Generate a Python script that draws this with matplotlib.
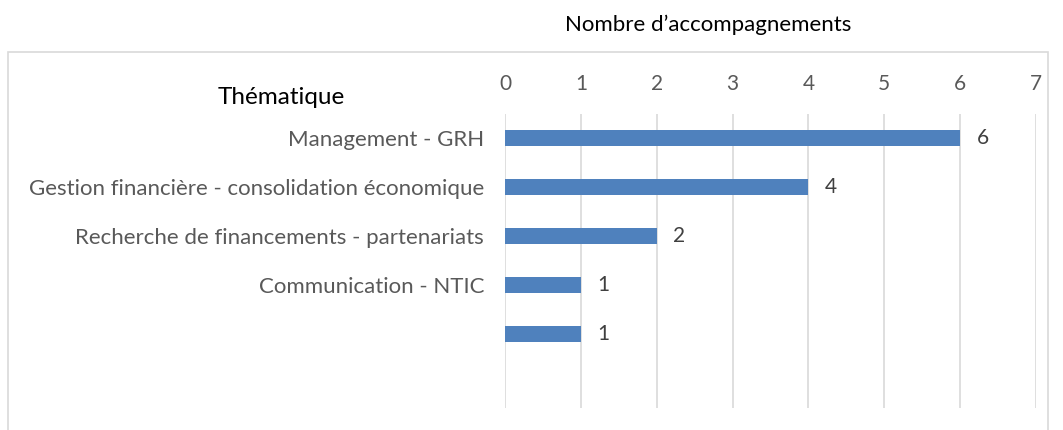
import matplotlib.pyplot as plt
from matplotlib.patches import Rectangle

plt.rcParams['font.family'] = ['Lato', 'DejaVu Sans']

# data
themes = ['Management - GRH',
          'Gestion financière - consolidation économique',
          'Recherche de financements - partenariats',
          'Communication - NTIC',
          '',
          '']
counts = [6, 4, 2, 1, 1, None]
xticks = [0, 1, 2, 3, 4, 5, 6, 7]

W, H = 1063, 430
fig = plt.figure(figsize=(W / 100, H / 100), dpi=100)

# axes area in pixels: x 505 -> 1036 (0..7), y 113 -> 407
left, right, top, bottom = 505, 1036, 113.5, 407.5
ax = fig.add_axes([left / W, 1 - bottom / H, (right - left) / W, (bottom - top) / H])

ypos = list(range(len(themes)))
vals = [c if c is not None else 0 for c in counts]
ax.barh(ypos, vals, height=0.33, color='#4f81bd', zorder=3)
for y, c in zip(ypos, counts):
    if c is not None:
        ax.text(c + 0.22, y, str(c), va='center', ha='left', fontsize=15, color='#404040')

ax.set_xlim(0, 7)
ax.set_ylim(len(themes) - 0.5, -0.5)
ax.set_xticks(xticks)
ax.xaxis.tick_top()
ax.tick_params(axis='x', length=0, pad=14, labelsize=15, labelcolor='#595959')
ax.set_yticks(ypos)
ax.set_yticklabels(themes)
ax.tick_params(axis='y', length=0, pad=15, labelsize=16, labelcolor='#595959')
ax.grid(axis='x', color='#d9d9d9', linewidth=1.2, zorder=0)
for s in ax.spines.values():
    s.set_visible(False)

# outer chart border
fig.patches.append(Rectangle((8 / W, -0.05), (1048 - 8) / W, 1.05 - 52 / H,
                             transform=fig.transFigure, fill=False,
                             edgecolor='#d9d9d9', linewidth=1.2))

fig.text(708 / W, 1 - 25 / H, 'Nombre d\u2019accompagnements', ha='center', va='center',
         fontsize=16, color='#000000')
fig.text(281 / W, 1 - 97 / H, 'Thématique', ha='center', va='center',
         fontsize=17.5, color='#000000')

fig.savefig('out.png', dpi=100)
